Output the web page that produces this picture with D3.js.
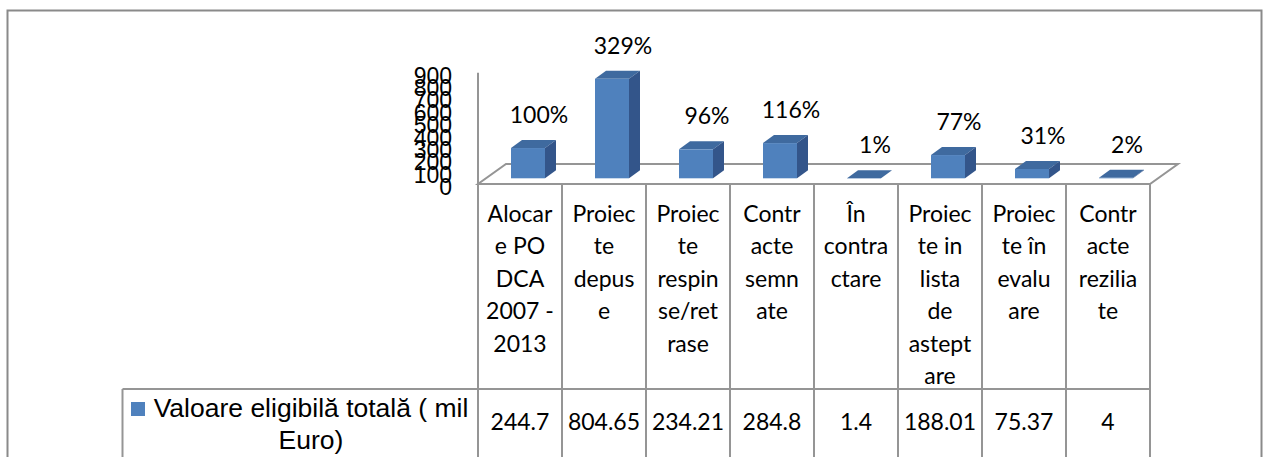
<!DOCTYPE html>
<html>
<head>
<meta charset="utf-8">
<script src="https://cdn.jsdelivr.net/npm/d3@7"></script>
<style>
  html, body { margin: 0; padding: 0; background: #fff; overflow: hidden; }
  svg { display: block; }
</style>
</head>
<body>
<svg id="chart" width="1264" height="457"></svg>
<script>
// ---- data ----
const categoryLines = [
  ["Alocar", "e PO", "DCA", "2007 -", "2013"],
  ["Proiec", "te", "depus", "e"],
  ["Proiec", "te", "respin", "se/ret", "rase"],
  ["Contr", "acte", "semn", "ate"],
  ["În", "contra", "ctare"],
  ["Proiec", "te in", "lista", "de", "astept", "are"],
  ["Proiec", "te în", "evalu", "are"],
  ["Contr", "acte", "rezilia", "te"]
];
const values = [244.7, 804.65, 234.21, 284.8, 1.4, 188.01, 75.37, 4];
const percentLabels = ["100%", "329%", "96%", "116%", "1%", "77%", "31%", "2%"];
const yTicks = [0, 100, 200, 300, 400, 500, 600, 700, 800, 900];
const seriesName = ["Valoare eligibilă totală ( mil", "Euro)"];

// ---- layout ----
const svg = d3.select("#chart");
const plotLeft = 478, plotRight = 1150, floorFront = 184;
const depth = { dx: 28, dy: -20 };
const barOffset = { dx: 8, dy: -5.7 };
const barDepth = { dx: 11, dy: -8 };
const barW = 34;
const grid = "#959595";
const calibri = "Lato, 'Open Sans', sans-serif";
const arial = "'Liberation Sans', Arial, sans-serif";

const idx = values.map((d, i) => i);
const x = d3.scaleBand().domain(idx).range([plotLeft, plotRight]);
const y = d3.scaleLinear().domain([0, 900]).range([floorFront, 72.7]);

// outer frame
svg.append("rect").attr("x", 7.5).attr("y", 10.5).attr("width", 1254).attr("height", 460)
  .attr("fill", "none").attr("stroke", "#8a8a8a").attr("stroke-width", 2);

// floor
const floorPts = [
  [plotLeft, floorFront], [plotRight, floorFront],
  [plotRight + depth.dx, floorFront + depth.dy], [plotLeft + depth.dx, floorFront + depth.dy]
];
svg.append("polygon").attr("points", floorPts.map(p => p.join(",")).join(" "))
  .attr("fill", "#fff").attr("stroke", grid).attr("stroke-width", 2).attr("stroke-linejoin", "miter");

// value axis line
svg.append("line").attr("x1", plotLeft).attr("x2", plotLeft)
  .attr("y1", y(900)).attr("y2", floorFront).attr("stroke", grid).attr("stroke-width", 2);

// y tick labels (overlapping as in reference)
svg.append("g").selectAll("text").data(yTicks).join("text")
  .attr("x", 452).attr("y", d => y(d) + 3)
  .attr("text-anchor", "end").attr("dominant-baseline", "central")
  .attr("font-family", arial).attr("font-size", 23).attr("fill", "#000")
  .text(d => d);

// 3D bars
const bars = svg.append("g").selectAll("g").data(values).join("g");
function geom(v, i) {
  const x0 = x(i) + (x.bandwidth() - barW) / 2 + barOffset.dx;
  const x1 = x0 + barW;
  const yb = floorFront + barOffset.dy;
  const yt = y(v) + barOffset.dy;
  return { x0, x1, yb, yt };
}
bars.append("polygon").attr("points", (v, i) => {
  const g = geom(v, i);
  return [[g.x0, g.yt], [g.x1, g.yt], [g.x1 + barDepth.dx, g.yt + barDepth.dy], [g.x0 + barDepth.dx, g.yt + barDepth.dy]]
    .map(p => p.join(",")).join(" ");
}).attr("fill", "#3F6A9F");
bars.append("polygon").attr("points", (v, i) => {
  const g = geom(v, i);
  return [[g.x1, g.yt], [g.x1 + barDepth.dx, g.yt + barDepth.dy], [g.x1 + barDepth.dx, g.yb + barDepth.dy], [g.x1, g.yb]]
    .map(p => p.join(",")).join(" ");
}).attr("fill", "#33558A");
bars.append("rect")
  .attr("x", (v, i) => geom(v, i).x0)
  .attr("y", (v, i) => geom(v, i).yt)
  .attr("width", barW)
  .attr("height", (v, i) => geom(v, i).yb - geom(v, i).yt)
  .attr("fill", "#4F81BD");

// data labels
svg.append("g").selectAll("text").data(values).join("text")
  .attr("x", (v, i) => geom(v, i).x0 + barW / 2 + barDepth.dx)
  .attr("y", (v, i) => geom(v, i).yt + barDepth.dy - 26)
  .attr("text-anchor", "middle").attr("dominant-baseline", "central")
  .attr("font-family", calibri).attr("font-size", 23).attr("fill", "#000")
  .text((v, i) => percentLabels[i]);

// data table
const rowTop = 389, tableBottom = 470, legendLeft = 122.5;
const tg = svg.append("g");
// column lines
tg.selectAll("line.col").data(d3.range(values.length + 1)).join("line")
  .attr("class", "col")
  .attr("x1", k => plotLeft + k * x.step()).attr("x2", k => plotLeft + k * x.step())
  .attr("y1", floorFront).attr("y2", tableBottom)
  .attr("stroke", grid).attr("stroke-width", 2);
// row line
tg.append("line").attr("x1", legendLeft).attr("x2", plotRight)
  .attr("y1", rowTop).attr("y2", rowTop).attr("stroke", grid).attr("stroke-width", 2);
// legend cell left border
tg.append("line").attr("x1", legendLeft).attr("x2", legendLeft)
  .attr("y1", rowTop).attr("y2", tableBottom).attr("stroke", grid).attr("stroke-width", 2);

// header text
const hdr = tg.selectAll("text.hdr").data(categoryLines).join("text")
  .attr("class", "hdr")
  .attr("text-anchor", "middle")
  .attr("font-family", calibri).attr("font-size", 23).attr("fill", "#000");
hdr.selectAll("tspan").data((lines, i) => lines.map(l => ({ l, i }))).join("tspan")
  .attr("x", d => x(d.i) + x.bandwidth() / 2)
  .attr("y", (d, j) => 222 + j * 32.4)
  .text(d => d.l);

// values row
tg.selectAll("text.val").data(values).join("text")
  .attr("class", "val")
  .attr("x", (v, i) => x(i) + x.bandwidth() / 2)
  .attr("y", 430)
  .attr("text-anchor", "middle")
  .attr("font-family", calibri).attr("font-size", 23).attr("fill", "#000")
  .text(v => String(v));

// legend
tg.append("rect").attr("x", 131).attr("y", 402).attr("width", 14).attr("height", 14).attr("fill", "#4F81BD");
tg.append("text").attr("x", 311).attr("y", 417)
  .attr("text-anchor", "middle")
  .attr("font-family", arial).attr("font-size", 26.5).attr("fill", "#000")
  .text(seriesName[0]);
tg.append("text").attr("x", 311).attr("y", 449)
  .attr("text-anchor", "middle")
  .attr("font-family", arial).attr("font-size", 26.5).attr("fill", "#000")
  .text(seriesName[1]);
</script>
</body>
</html>
